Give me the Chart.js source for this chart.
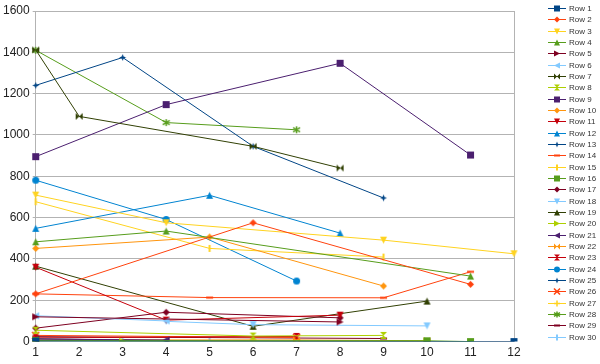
<!DOCTYPE html>
<html>
<head>
<meta charset="utf-8">
<script src="https://cdn.jsdelivr.net/npm/chart.js@4.4.1/dist/chart.umd.min.js"></script>
<style>
  body { margin: 0; background: #fff; }
  #wrap { position: relative; width: 600px; height: 364px; }
  #legend { position: absolute; left: 548px; top: 3px; font: 8px "Liberation Sans", Arial, sans-serif; color: #333; }
  #legend div { height: 11.34px; display: flex; align-items: center; white-space: nowrap; }
  #legend canvas { margin-right: 3px; }
</style>
</head>
<body>
<div id="wrap">
  <canvas id="chart" width="600" height="364"></canvas>
  <div id="legend"></div>
</div>
<script>
// categories (x axis)
const categories = ['1', '2', '3', '4', '5', '6', '7', '8', '9', '10', '11', '12'];
const yTicks = [0, 200, 400, 600, 800, 1000, 1200, 1400, 1600];

// series values, one per column (null = no value)
const row1  = [2, null, null, null, null, null, null, null, null, null, null, 0];
const row2  = [231, null, null, null, null, 575, null, null, null, null, 277, null];
const row3  = [709, null, null, 575, null, null, null, null, 491, null, null, 425];
const row4  = [483, null, null, 535, null, null, null, null, null, null, 317, null];
const row5  = [120, null, null, null, null, null, null, 95, null, null, null, null];
const row6  = [125, null, null, 100, null, null, null, null, null, null, null, null];
const row7  = [1412, 1090, null, null, null, 945, null, 840, null, null, null, null];
const row8  = [55, null, null, null, null, 27, null, null, 30, null, null, null];
const row9  = [895, null, null, 1147, null, null, null, 1347, null, null, 903, null];
const row10 = [451, null, null, null, 506, null, null, null, 269, null, null, null];
const row11 = [360, null, null, 104, null, null, null, 128, null, null, null, null];
const row12 = [548, null, null, null, 708, null, null, 525, null, null, null, null];
const row13 = [1240, null, 1375, null, null, 945, null, null, 695, null, null, null];
const row14 = [231, null, null, null, 213, null, null, null, 212, null, 338, null];
const row15 = [677, null, null, null, 451, null, null, null, 409, null, null, null];
const row16 = [5, null, null, null, null, null, null, null, null, 4, 0, null];
const row17 = [65, null, null, 142, null, null, null, 115, null, null, null, null];
const row18 = [null, null, null, 98, null, 82, null, null, null, 76, null, null];
const row19 = [365, null, null, null, null, 74, null, null, null, 196, null, null];
const row20 = [null, null, 2, null, null, null, null, null, null, 3, null, null];
const row21 = [12, null, null, 8, null, null, null, null, null, null, null, null];
const row22 = [8, null, null, null, null, null, 8, null, null, 4, null, null];
const row23 = [18, null, null, null, null, null, 25, null, null, null, null, null];
const row24 = [781, null, null, 591, null, null, 293, null, null, null, null, null];
const row25 = [14, null, null, 4, null, null, null, null, null, null, null, null];
const row26 = [30, null, null, null, null, null, 20, null, null, null, null, null];
const row27 = [3, null, null, null, null, 6, null, null, null, null, null, null];
const row28 = [1410, null, null, 1060, null, null, 1025, null, null, null, null, null];
const row29 = [24, null, null, null, null, null, null, null, 15, null, null, null];
const row30 = [0, null, 0, null, 0, null, null, null, null, null, null, null];

const seriesNames = [];
for (let i = 1; i <= 30; i++) seriesNames.push('Row ' + i);
const seriesValues = [row1, row2, row3, row4, row5, row6, row7, row8, row9, row10,
  row11, row12, row13, row14, row15, row16, row17, row18, row19, row20,
  row21, row22, row23, row24, row25, row26, row27, row28, row29, row30];

// LibreOffice default palette, repeats every 12 series
const palette = ['#004586', '#ff420e', '#ffd320', '#579d1c', '#7e0021', '#83caff',
  '#314004', '#aecf00', '#4b1f6f', '#ff950e', '#c5000b', '#0084d1'];
const shapes = ['square', 'diamond', 'down', 'up', 'right', 'left', 'bowtie', 'hourglass',
  'square', 'diamond', 'down', 'up', 'star', 'hbar', 'vbar',
  'square', 'diamond', 'down', 'up', 'right', 'left', 'bowtie', 'hourglass',
  'circle', 'star', 'x', 'plus', 'asterisk', 'hbar', 'vbar'];

function drawMarker(ctx, shape, x, y, r, color) {
  ctx.fillStyle = color;
  ctx.strokeStyle = color;
  ctx.lineWidth = 1.5;
  ctx.beginPath();
  switch (shape) {
    case 'square': ctx.rect(x - r, y - r, 2 * r, 2 * r); ctx.fill(); break;
    case 'diamond':
      ctx.moveTo(x, y - r); ctx.lineTo(x + r, y); ctx.lineTo(x, y + r); ctx.lineTo(x - r, y);
      ctx.closePath(); ctx.fill(); break;
    case 'down':
      ctx.moveTo(x - r, y - r); ctx.lineTo(x + r, y - r); ctx.lineTo(x, y + r);
      ctx.closePath(); ctx.fill(); break;
    case 'up':
      ctx.moveTo(x - r, y + r); ctx.lineTo(x + r, y + r); ctx.lineTo(x, y - r);
      ctx.closePath(); ctx.fill(); break;
    case 'right':
      ctx.moveTo(x - r, y - r); ctx.lineTo(x + r, y); ctx.lineTo(x - r, y + r);
      ctx.closePath(); ctx.fill(); break;
    case 'left':
      ctx.moveTo(x + r, y - r); ctx.lineTo(x - r, y); ctx.lineTo(x + r, y + r);
      ctx.closePath(); ctx.fill(); break;
    case 'bowtie':
      ctx.moveTo(x - r, y - r); ctx.lineTo(x + r, y + r); ctx.lineTo(x + r, y - r); ctx.lineTo(x - r, y + r);
      ctx.closePath(); ctx.fill(); break;
    case 'hourglass':
      ctx.moveTo(x - r, y - r); ctx.lineTo(x + r, y - r); ctx.lineTo(x - r, y + r); ctx.lineTo(x + r, y + r);
      ctx.closePath(); ctx.fill(); break;
    case 'circle': ctx.arc(x, y, r, 0, Math.PI * 2); ctx.fill(); break;
    case 'star':
      for (let k = 0; k < 8; k++) {
        const a = k * Math.PI / 4 - Math.PI / 2;
        const rr = k % 2 ? r * 0.4 : r;
        ctx.lineTo(x + rr * Math.cos(a), y + rr * Math.sin(a));
      }
      ctx.closePath(); ctx.fill(); break;
    case 'x':
      ctx.moveTo(x - r, y - r); ctx.lineTo(x + r, y + r);
      ctx.moveTo(x + r, y - r); ctx.lineTo(x - r, y + r); ctx.stroke(); break;
    case 'plus':
      ctx.moveTo(x - r, y); ctx.lineTo(x + r, y);
      ctx.moveTo(x, y - r); ctx.lineTo(x, y + r); ctx.stroke(); break;
    case 'asterisk':
      ctx.moveTo(x, y - r); ctx.lineTo(x, y + r);
      ctx.moveTo(x - r, y - r * 0.6); ctx.lineTo(x + r, y + r * 0.6);
      ctx.moveTo(x + r, y - r * 0.6); ctx.lineTo(x - r, y + r * 0.6); ctx.stroke(); break;
    case 'hbar': ctx.fillRect(x - r, y - 1, 2 * r, 2); break;
    case 'vbar': ctx.fillRect(x - 1, y - r, 2, 2 * r); break;
  }
}

function markerImage(shape, color) {
  const c = document.createElement('canvas');
  c.width = 9; c.height = 9;
  drawMarker(c.getContext('2d'), shape, 4.5, 4.5, 3.5, color);
  return c;
}

const datasets = seriesValues.map((vals, i) => {
  const color = palette[i % palette.length];
  return {
    label: seriesNames[i],
    data: vals,
    borderColor: color,
    backgroundColor: color,
    borderWidth: 1,
    pointStyle: markerImage(shapes[i], color),
    pointRadius: 4,
    spanGaps: true,
    tension: 0
  };
});

new Chart(document.getElementById('chart'), {
  type: 'line',
  data: { labels: categories, datasets: datasets },
  options: {
    responsive: false,
    animation: false,
    devicePixelRatio: 1,
    layout: { padding: { left: 0, top: 11, right: 86, bottom: 0 } },
    plugins: { legend: { display: false }, tooltip: { enabled: false } },
    scales: {
      x: {
        offset: false,
        grid: {
          drawTicks: false,
          color: (c) => c.index === categories.length - 1 ? '#b3b3b3' : 'rgba(0,0,0,0)'
        },
        border: { color: '#b3b3b3' },
        ticks: { color: '#222', font: { family: 'Liberation Sans', size: 12 }, padding: 4, maxRotation: 0 }
      },
      y: {
        min: 0,
        max: 1600,
        afterBuildTicks: (axis) => { axis.ticks = yTicks.map(v => ({ value: v })); },
        grid: { color: '#b3b3b3', tickLength: 3 },
        border: { color: '#b3b3b3' },
        ticks: {
          color: '#222',
          font: { family: 'Liberation Sans', size: 12 },
          padding: 3,
          callback: (v) => String(v)
        }
      }
    }
  }
});

// legend: line + marker, then the name
const legend = document.getElementById('legend');
seriesNames.forEach((name, i) => {
  const color = palette[i % palette.length];
  const row = document.createElement('div');
  const c = document.createElement('canvas');
  c.width = 18; c.height = 9;
  const ctx = c.getContext('2d');
  ctx.strokeStyle = color;
  ctx.lineWidth = 1;
  ctx.beginPath(); ctx.moveTo(0, 4.5); ctx.lineTo(18, 4.5); ctx.stroke();
  drawMarker(ctx, shapes[i], 9, 4.5, 3, color);
  row.appendChild(c);
  row.appendChild(document.createTextNode(name));
  legend.appendChild(row);
});
</script>
</body>
</html>
